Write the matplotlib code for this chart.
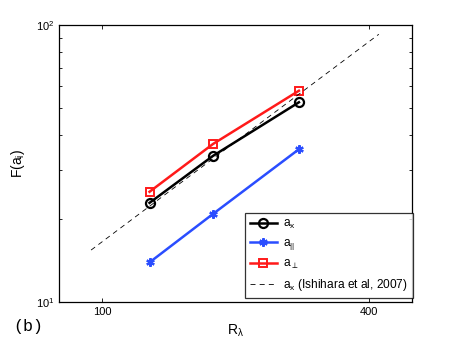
"""Acceleration flatness F(a_i) versus R_lambda, panel (b)."""
import matplotlib
matplotlib.use('Agg')
import matplotlib.pyplot as plt
from matplotlib.ticker import FixedLocator, NullFormatter, NullLocator

plt.rcParams['font.family'] = ['Liberation Sans', 'DejaVu Sans']
plt.rcParams['mathtext.fontset'] = 'custom'
plt.rcParams['mathtext.rm'] = 'Liberation Sans'
plt.rcParams['mathtext.it'] = 'Liberation Sans'

# data
r_lambda = [128, 178, 278]
f_ax = [22.8, 33.7, 52.6]
f_apar = [13.9, 20.8, 35.6]
f_aperp = [25.0, 37.2, 57.9]
# Ishihara et al (2007) reference line, two end points
r_ish = [94.5, 421]
f_ish = [15.4, 92.6]

x_ticks = [100, 400]

fig = plt.figure(figsize=(4.56, 3.43), dpi=100)
ax = fig.add_axes([0.1294, 0.1195, 0.774, 0.8076])

ax.plot(r_lambda, f_ax, '-o', color='black', lw=1.8, ms=6.5, mfc='none', mew=1.6,
        label=r'$\mathregular{a_x}$')
ax.plot(r_lambda, f_apar, '-', marker=(6, 2, 0), color='#2a4dff', lw=1.8, ms=6, mew=1.6,
        label=r'$\mathregular{a_{||}}$')
ax.plot(r_lambda, f_aperp, '-s', color='#ff1a1a', lw=1.8, ms=5.5, mfc='none', mew=1.4,
        label=r'$\mathregular{a_{\perp}}$')
ax.plot(r_ish, f_ish, '--', color='black', lw=0.6, dashes=(6, 5),
        label=r'$\mathregular{a_x}$ (Ishihara et al, 2007)')

ax.set_xscale('log')
ax.set_yscale('log')
ax.set_xlim(80, 500)
ax.set_ylim(10, 100)
ax.xaxis.set_major_locator(FixedLocator(x_ticks))
ax.xaxis.set_minor_locator(NullLocator())
ax.xaxis.set_minor_formatter(NullFormatter())
ax.set_xticklabels([str(t) for t in x_ticks])
ax.yaxis.set_minor_formatter(NullFormatter())
ax.tick_params(which='both', direction='in', top=True, right=True, labelsize=8,
               length=3, width=0.6)
ax.tick_params(which='minor', length=2)
for s in ax.spines.values():
    s.set_linewidth(0.9)

ax.set_xlabel(r'$\mathregular{R_{\lambda}}$', fontsize=10, labelpad=4)
ax.set_ylabel(r'$\mathregular{F(a_i)}$', fontsize=10)
ax.yaxis.set_label_coords(-0.09, 0.5)

leg = ax.legend(loc='lower right', bbox_to_anchor=(1.002, 0.015), fontsize=8.6,
                frameon=True, fancybox=False, borderaxespad=0.0, handlelength=2.3,
                labelspacing=0.5, borderpad=0.4, handletextpad=0.5)
leg.get_frame().set_edgecolor('black')
leg.get_frame().set_linewidth(0.9)

fig.text(0.03, 0.035, '(b)', fontsize=12, family=['Liberation Mono', 'DejaVu Sans Mono'])

fig.savefig('out.png', dpi=100)
